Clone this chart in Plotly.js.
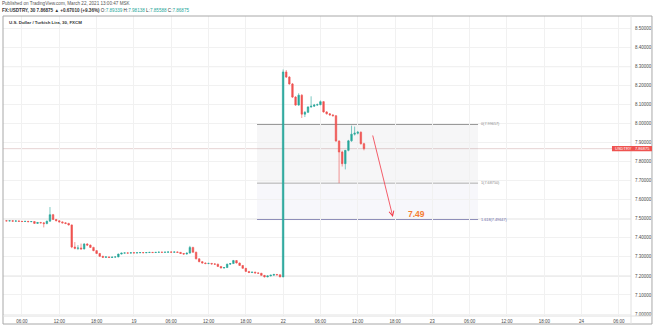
<!DOCTYPE html>
<html>
<head>
<meta charset="utf-8">
<script src="https://cdn.plot.ly/plotly-3.0.1.min.js"></script>
<style>
html,body{margin:0;padding:0;background:#fff;}
#chart{width:654px;height:328px;}
</style>
</head>
<body>
<div id="chart"></div>
<script>
// Half-hour bar slots (0 = 18 Mar 00:00 MSK, weekend removed)
const firstBar = 7;
const open = [7.490,7.489,7.490,7.488,7.489,7.487,7.486,7.487,7.485,7.486,7.476,7.481,7.479,7.475,7.488,7.522,7.497,7.490,7.484,7.479,7.476,7.468,7.352,7.345,7.347,7.342,7.368,7.362,7.350,7.333,7.318,7.303,7.298,7.300,7.297,7.299,7.300,7.315,7.320,7.321,7.320,7.322,7.321,7.322,7.323,7.322,7.323,7.324,7.323,7.324,7.325,7.324,7.325,7.326,7.325,7.326,7.324,7.318,7.315,7.320,7.350,7.325,7.290,7.275,7.268,7.265,7.266,7.263,7.262,7.250,7.242,7.244,7.262,7.265,7.281,7.268,7.255,7.240,7.224,7.218,7.220,7.216,7.214,7.203,7.195,7.200,7.204,7.208,7.206,7.195,8.272,8.245,8.209,8.140,8.098,8.150,8.050,8.060,8.088,8.092,8.098,8.100,8.116,8.062,8.052,8.046,8.042,7.909,7.851,7.790,7.860,7.910,7.945,7.950,7.955,7.895];
const high = [7.492,7.491,7.492,7.491,7.491,7.489,7.489,7.489,7.488,7.487,7.483,7.484,7.482,7.490,7.562,7.526,7.499,7.492,7.487,7.482,7.479,7.470,7.378,7.362,7.370,7.372,7.372,7.365,7.353,7.336,7.321,7.306,7.303,7.302,7.301,7.302,7.317,7.322,7.323,7.323,7.324,7.324,7.324,7.325,7.325,7.325,7.326,7.326,7.326,7.327,7.327,7.327,7.328,7.328,7.328,7.328,7.326,7.320,7.322,7.358,7.353,7.327,7.292,7.278,7.271,7.269,7.268,7.266,7.264,7.252,7.247,7.264,7.268,7.284,7.283,7.270,7.257,7.242,7.226,7.222,7.222,7.218,7.216,7.205,7.202,7.206,7.210,7.210,7.208,8.285,8.282,8.250,8.214,8.145,8.160,8.155,8.066,8.092,8.144,8.104,8.106,8.122,8.119,8.066,8.056,8.050,8.045,7.913,7.858,7.862,7.915,7.990,7.985,7.962,7.960,7.900];
const low = [7.487,7.487,7.486,7.486,7.485,7.484,7.484,7.483,7.483,7.474,7.474,7.476,7.455,7.472,7.485,7.494,7.487,7.481,7.476,7.472,7.465,7.346,7.340,7.336,7.338,7.339,7.357,7.347,7.330,7.315,7.300,7.295,7.295,7.294,7.295,7.296,7.298,7.313,7.318,7.318,7.318,7.319,7.319,7.320,7.320,7.320,7.321,7.321,7.321,7.322,7.322,7.322,7.323,7.323,7.323,7.322,7.316,7.312,7.313,7.318,7.322,7.287,7.272,7.265,7.262,7.262,7.260,7.259,7.248,7.239,7.239,7.242,7.259,7.263,7.266,7.253,7.238,7.222,7.215,7.215,7.213,7.211,7.201,7.192,7.193,7.198,7.202,7.203,7.193,7.193,8.240,8.205,8.135,8.094,8.094,8.030,8.035,8.056,8.084,8.088,8.094,8.097,8.058,8.048,8.043,8.038,7.905,7.6875,7.775,7.760,7.855,7.905,7.938,7.944,7.890,7.860];
const close = [7.489,7.490,7.488,7.489,7.487,7.486,7.487,7.485,7.486,7.476,7.481,7.479,7.475,7.488,7.522,7.497,7.490,7.484,7.479,7.476,7.468,7.352,7.345,7.347,7.342,7.368,7.362,7.350,7.333,7.318,7.303,7.298,7.300,7.297,7.299,7.300,7.315,7.320,7.321,7.320,7.322,7.321,7.322,7.323,7.322,7.323,7.324,7.323,7.324,7.325,7.324,7.325,7.326,7.325,7.326,7.324,7.318,7.315,7.320,7.350,7.325,7.290,7.275,7.268,7.265,7.266,7.263,7.262,7.250,7.242,7.244,7.262,7.265,7.281,7.268,7.255,7.240,7.224,7.218,7.220,7.216,7.214,7.203,7.195,7.200,7.204,7.208,7.206,7.195,8.272,8.245,8.209,8.140,8.098,8.150,8.050,8.060,8.088,8.092,8.098,8.100,8.116,8.062,8.052,8.046,8.042,7.909,7.851,7.790,7.860,7.910,7.945,7.950,7.955,7.895,7.86875];

const tickSlots = [12,24,36,48,60,72,84,96,108,120,132,144,156,168,180,192,204];
const tickLabels = ["06:00","12:00","18:00","19","06:00","12:00","18:00","22","06:00","12:00","18:00","23","06:00","12:00","18:00","24","06:00"];

const fibLevels = [7.99657, 7.68750, 7.49647];
const fibNames = ["0(7.99657)", "1(7.68750)", "1.618(7.49647)"];
const fibStart = 87.6, fibEnd = 158.7;
const levelLines = [8.30, 7.50, 7.20];
const lastPrice = 7.86875;
const arrowFrom = [124.7, 7.946], arrowTo = [131.3, 7.51];
const targetText = "7.49";
const targetPos = [139, 7.527];

const slots = open.map((_, k) => firstBar + k);

const FONT = "Liberation Sans, Arial, sans-serif";
const shapes = [];
levelLines.forEach(v => shapes.push({type:'line', xref:'paper', yref:'y', x0:0, x1:1, y0:v, y1:v, line:{color:'#d6d6d6', width:1}, layer:'below'}));
shapes.push({type:'line', xref:'paper', yref:'y', x0:0, x1:1, y0:lastPrice, y1:lastPrice, line:{color:'#e6d3d3', width:1}, layer:'below'});
shapes.push({type:'rect', xref:'x', yref:'y', x0:fibStart, x1:fibEnd, y0:fibLevels[1], y1:fibLevels[0], fillcolor:'rgba(125,125,135,0.07)', line:{width:0}, layer:'below'});
shapes.push({type:'rect', xref:'x', yref:'y', x0:fibStart, x1:fibEnd, y0:fibLevels[2], y1:fibLevels[1], fillcolor:'rgba(120,120,180,0.06)', line:{width:0}, layer:'below'});
const fibColors = ['#9a9a9a','#b0b0b0','#8d8db8'];
fibLevels.forEach((v,k) => shapes.push({type:'line', xref:'x', yref:'y', x0:fibStart, x1:fibEnd, y0:v, y1:v, line:{color:fibColors[k], width:k===0?1.3:1}, layer:'below'}));
const fr = '#a8a8a8';
shapes.push({type:'rect', xref:'paper', yref:'paper', x0:0, x1:1.0334, y0:-0.0267, y1:1, line:{color:fr, width:1}, fillcolor:'rgba(0,0,0,0)'});
shapes.push({type:'line', xref:'paper', yref:'paper', x0:1, x1:1, y0:-0.0267, y1:1, line:{color:'#e0e0e0', width:1}});
shapes.push({type:'line', xref:'paper', yref:'paper', x0:0, x1:1.0334, y0:0, y1:0, line:{color:'#e0e0e0', width:1}});
shapes.push({type:'rect', xref:'paper', yref:'y', x0:0.9697, x1:1.0334, y0:lastPrice-0.0135, y1:lastPrice+0.0135, fillcolor:'#ef5350', line:{width:0}});

const annotations = [
  {xref:'paper', yref:'paper', x:-0.0048, y:1.0433, xanchor:'left', yanchor:'middle', showarrow:false, align:'left',
   text:'Published on TradingView.com, March 22, 2021 13:00:47 MSK', font:{family:FONT, size:4.6, color:'#555'}},
  {xref:'paper', yref:'paper', x:-0.0048, y:1.0167, xanchor:'left', yanchor:'middle', showarrow:false, align:'left',
   text:'<b>FX:USDTRY, 30 7.86875 ▲ +0.67010 (+9.36%)</b> O:<span style="color:#26a69a">7.89339</span> H:<span style="color:#26a69a">7.98138</span> L:<span style="color:#26a69a">7.85588</span> C:<span style="color:#26a69a">7.86875</span>', font:{family:FONT, size:4.6, color:'#333'}},
  {xref:'paper', yref:'paper', x:0.0064, y:0.9767, xanchor:'left', yanchor:'middle', showarrow:false,
   text:'<b>U.S. Dollar / Turkish Lira, 30, FXCM</b>', font:{family:FONT, size:4.4, color:'#333'}},
  {xref:'x', yref:'y', x:arrowTo[0], y:arrowTo[1], ax:arrowFrom[0], ay:arrowFrom[1], axref:'x', ayref:'y', text:'', showarrow:true,
   arrowhead:5, arrowsize:1.2, arrowwidth:0.8, arrowcolor:'#f23645'},
  {xref:'x', yref:'y', x:targetPos[0], y:targetPos[1], text:'<b>'+targetText+'</b>', showarrow:false, font:{family:FONT, size:8.5, color:'#f57c33'}},
  {xref:'paper', yref:'y', x:0.9713, y:lastPrice, xanchor:'left', yanchor:'middle', showarrow:false, text:'USDTRY', font:{family:FONT, size:4, color:'#fff'}},
  {xref:'paper', yref:'y', x:1.003, y:lastPrice, xanchor:'left', yanchor:'middle', showarrow:false, text:lastPrice.toFixed(5), font:{family:FONT, size:4, color:'#fff'}}
];
fibLevels.forEach((v,k) => annotations.push({xref:'x', yref:'y', x:fibEnd+0.3, y:v, xanchor:'left', yanchor:'middle', showarrow:false,
  text:fibNames[k], font:{family:FONT, size:3.8, color: k===2 ? '#6a6aa8' : '#8a8a8a'}}));

const trace = {
  type:'candlestick', x:slots, open:open, high:high, low:low, close:close,
  increasing:{line:{color:'#26a69a', width:0.6}, fillcolor:'#26a69a'},
  decreasing:{line:{color:'#ef5350', width:0.6}, fillcolor:'#ef5350'},
  whiskerwidth:0, hoverinfo:'skip'
};

const layout = {
  width:654, height:328,
  margin:{l:3, r:23, t:16, b:12, pad:0},
  paper_bgcolor:'#fff', plot_bgcolor:'#fff',
  showlegend:false,
  xaxis:{range:[5.89, 207.9], tickvals:tickSlots, ticktext:tickLabels, showgrid:true, gridcolor:'#f1f1f1', gridwidth:1,
         zeroline:false, showline:false, ticks:'', ticklabelstandoff:1, tickfont:{family:FONT, size:4.5, color:'#4a4a4a'},
         rangeslider:{visible:false}, fixedrange:true},
  yaxis:{range:[6.9895, 8.566], side:'right', tick0:7, dtick:0.1, tickformat:'.5f', showgrid:true, gridcolor:'#f1f1f1',
         zeroline:false, showline:false, ticks:'', ticklabelstandoff:3, tickfont:{family:FONT, size:4.5, color:'#4a4a4a'}, fixedrange:true},
  shapes:shapes, annotations:annotations
};
Plotly.newPlot('chart', [trace], layout, {staticPlot:true, displayModeBar:false});
</script>
</body>
</html>
